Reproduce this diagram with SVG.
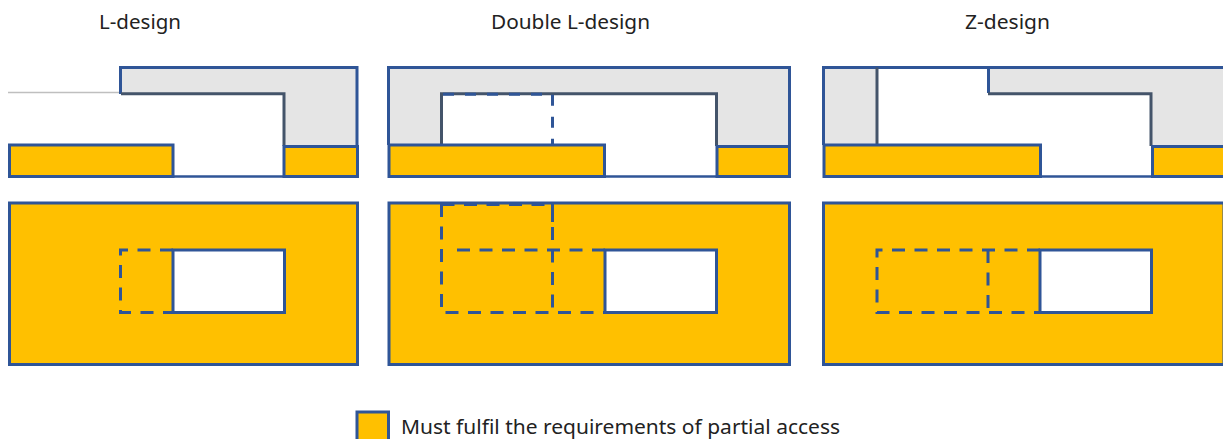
<svg xmlns="http://www.w3.org/2000/svg" width="1223" height="439" viewBox="0 0 1223 439">
<style>
.s{stroke:#2f5597;stroke-width:3;fill:none}
.b{stroke:#2f5597;stroke-width:2.500;fill:none}
.d{stroke:#2f5597;stroke-width:3;fill:none;stroke-dasharray:13 9.500}
.o{fill:#ffc000;stroke:#2f5597;stroke-width:3}
.w{fill:#fff;stroke:#2f5597;stroke-width:3}
.g{fill:#e5e5e5}
.n{stroke:#44546a;stroke-width:3;fill:none}
.t{font-family:"Noto Sans","Open Sans","Liberation Sans",sans-serif;font-size:20px;fill:#222}
</style>
<rect width="1223" height="439" fill="#fff"/>
<g id="title-l"><text class="t" x="99" y="29" textLength="82" lengthAdjust="spacingAndGlyphs">L-design</text></g>
<g id="title-dl"><text class="t" x="491" y="29" textLength="159" lengthAdjust="spacingAndGlyphs">Double L-design</text></g>
<g id="title-z"><text class="t" x="965" y="29" textLength="85" lengthAdjust="spacingAndGlyphs">Z-design</text></g>

<g id="l-section">
<path class="g" d="M120 67H357V147H284V94H120Z"/>
<path d="M8 92.500H120" stroke="#bfbfbf" stroke-width="1.500" fill="none"/>
<path class="s" d="M120.500 94V67.500H357V147"/>
<path class="n" d="M121 93.800H284V146"/>
<path class="b" d="M173 176.500H284"/>
<rect class="o" x="9.500" y="145" width="163.500" height="31.500"/>
<rect class="o" x="284" y="146.500" width="73.500" height="30"/>
</g>
<g id="l-plan">
<rect class="o" x="9.500" y="203" width="348" height="161.500"/>
<path class="d" d="M173 250H120.500V312.500H173"/>
<rect class="w" x="173" y="250" width="111.500" height="62.500"/>
</g>

<g id="double-section">
<path class="g" d="M388 67H789V147H716V94H441.500V145H388Z"/>
<path class="s" d="M388.500 145V67.500H789.500V147"/>
<path class="n" d="M441.500 145V93.800H716.500V146"/>
<path class="d" style="stroke-dasharray:11 11" d="M443 94.300H552.500V145"/>
<path class="b" d="M605 176.500H716"/>
<rect class="o" x="389" y="145" width="215.500" height="31.500"/>
<rect class="o" x="717" y="146.500" width="72.500" height="30"/>
</g>
<g id="double-plan">
<rect class="o" x="389" y="203" width="400.500" height="161.500"/>
<path class="d" d="M441.500 204.500H552.500"/>
<path class="d" d="M441.500 204V312.500H605"/>
<path class="d" d="M605 250H449"/>
<path class="s" d="M552.500 203V222"/>
<path class="d" d="M552.500 227V312.500"/>
<rect class="w" x="605" y="250" width="111.500" height="62.500"/>
</g>

<g id="z-section">
<path class="g" d="M823 67H876.500V145H823Z"/>
<path class="g" d="M988 67H1223V147H1151V94H988Z"/>
<path class="s" d="M823.500 145V67.500H1223"/>
<path class="n" d="M877 67.500V145"/>
<path class="s" d="M988.500 67.500V93"/>
<path class="n" d="M988 93.800H1151V146"/>
<path class="b" d="M1041 176.500H1151"/>
<rect class="o" x="824" y="145" width="216.500" height="31.500"/>
<rect class="o" x="1152.500" y="146.500" width="75" height="30"/>
</g>
<g id="z-plan">
<rect class="o" x="823.500" y="203" width="400.500" height="161.500"/>
<path class="d" d="M1040 250H877V312.500H1040"/>
<path class="d" d="M988 250V312.500"/>
<rect class="w" x="1040" y="250" width="111.500" height="62.500"/>
</g>

<g id="legend">
<rect class="o" x="357" y="412" width="31.500" height="34"/>
<text class="t" x="401" y="434" textLength="439" lengthAdjust="spacingAndGlyphs">Must fulfil the requirements of partial access</text>
</g>
</svg>
